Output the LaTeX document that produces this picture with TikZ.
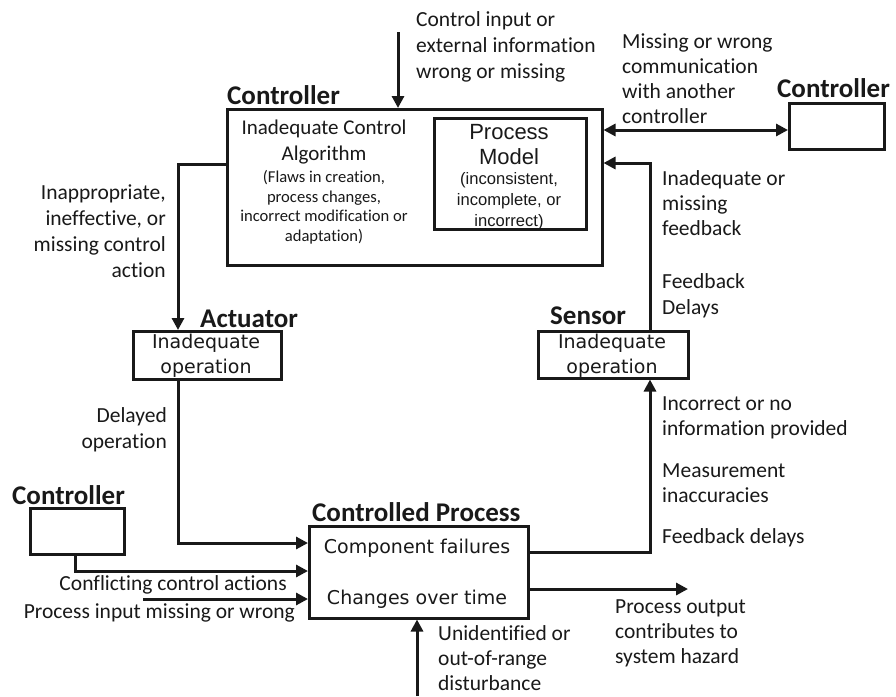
\documentclass[tikz,border=0pt]{standalone}
\usepackage{fontspec}
\setmainfont[Ligatures=NoCommon]{Carlito}
\newfontfamily\arialf{Liberation Sans}
\newfontfamily\verdf{DejaVu Sans}
\usetikzlibrary{arrows.meta}
\definecolor{ink}{RGB}{25,25,25}
\tikzset{
  box/.style={draw=ink, line width=2.5pt, inner sep=0pt, anchor=north west},
  arr/.style={draw=ink, line width=3pt, -{Triangle[length=12pt,width=12pt]}},
  dbl/.style={draw=ink, line width=3pt, {Triangle[length=12pt,width=12pt]}-{Triangle[length=12pt,width=12pt]}},
  lbl/.style={text=ink, font=\fontsize{21.5}{26}\selectfont, align=left, inner sep=0pt, anchor=north west},
  lbls/.style={text=ink, font=\fontsize{21.5}{25}\selectfont, align=left, inner sep=0pt, anchor=north west},
  lblr/.style={text=ink, font=\fontsize{21.5}{26}\selectfont, align=right, inner sep=0pt, anchor=north east},
  ttl/.style={text=ink, font=\bfseries\fontsize{27}{30}\selectfont, inner sep=0pt, anchor=base west},
  ctxt/.style={text=ink, font=\fontsize{21}{26}\selectfont, align=center, inner sep=0pt, anchor=north},
  csmall/.style={text=ink, font=\fontsize{16.6}{19.5}\selectfont, align=center, inner sep=0pt, anchor=north},
  pmbig/.style={text=ink, font=\arialf\fontsize{22}{25}\selectfont, align=center, inner sep=0pt, anchor=north},
  pmsmall/.style={text=ink, font=\arialf\fontsize{16.6}{21}\selectfont, align=center, inner sep=0pt, anchor=north},
  vtxt/.style={text=ink, font=\verdf\fontsize{19}{25}\selectfont, align=center, inner sep=0pt, anchor=north},
  vline/.style={text=ink, font=\verdf\fontsize{19}{25}\selectfont, inner sep=0pt, anchor=base}
}
\begin{document}
\begin{tikzpicture}[x=1pt,y=-1pt]
\useasboundingbox (0,0) rectangle (896,696);
\fill[white] (0,0) rectangle (896,696);

% boxes
\node[box, minimum width=375pt, minimum height=156pt] (ctrl) at (226,108) {};
\node[box, minimum width=152pt, minimum height=111pt] (pm) at (433,117) {};
\node[box, minimum width=95pt, minimum height=46pt] (ctrlR) at (788,102) {};
\node[box, minimum width=148pt, minimum height=48pt] (act) at (132,330) {};
\node[box, minimum width=150pt, minimum height=47pt] (sens) at (537,330) {};
\node[box, minimum width=219pt, minimum height=92pt] (proc) at (308,525) {};
\node[box, minimum width=94pt, minimum height=46pt] (ctrlL) at (29,507) {};

% titles
\node[ttl] (tCtrl) at (227,104) {Controller};
\node[ttl] (tCtrlR) at (777,97) {Controller};
\node[ttl] (tAct) at (200,327) {Actuator};
\node[ttl] (tSens) at (550,324) {Sensor};
\node[ttl] (tProc) at (312,521) {Controlled Process};
\node[ttl] (tCtrlL) at (12,504) {Controller};

% box contents
\node[ctxt] (algo) at (324,115.8) {\strut Inadequate Control\\Algorithm};
\node[csmall] (flaws) at (324,169) {\strut(Flaws in creation,\\process changes,\\incorrect modification or\\adaptation)};
\node[pmbig] (pmt) at (509,121.5) {\strut Process\\Model};
\node[pmsmall] (pms) at (509,169.3) {\strut(inconsistent,\\incomplete, or\\incorrect)};
\node[vtxt] (actt) at (206,330.5) {\strut Inadequate\\operation};
\node[vtxt] (senst) at (612,330.5) {\strut Inadequate\\operation};
\node[vline] (comp) at (417,553) {Component failures};
\node[vline] (chg) at (417,604) {Changes over time};

% labels
\node[lbl] (lTop) at (416,7.8) {\strut Control input or\\external information\\wrong or missing};
\node[lbls] (lComm) at (622,30.5) {\strut Missing or wrong\\communication\\with another\\controller};
\node[lbls] (lFb) at (662,167.8) {\strut Inadequate or\\missing\\feedback};
\node[lbl] (lFd) at (662,269.8) {\strut Feedback\\Delays};
\node[lbls] (lInc) at (662,392.5) {\strut Incorrect or no\\information provided};
\node[lbls] (lMeas) at (662,459.5) {\strut Measurement\\inaccuracies};
\node[lbl] (lFd2) at (662,524.8) {\strut Feedback delays};
\node[lbls] (lOut) at (615,595.8) {\strut Process output\\contributes to\\system hazard};
\node[lbls] (lDist) at (438,622.5) {\strut Unidentified or\\out-of-range\\disturbance};
\node[lblr] (lInap) at (166,180.8) {\strut Inappropriate,\\ineffective, or\\missing control\\action};
\node[lblr] (lDel) at (167,403.8) {\strut Delayed\\operation};
\node[lblr] (lConf) at (287,571.8) {\strut Conflicting control actions};
\node[lblr] (lIn) at (295,599.8) {\strut Process input missing or wrong};

% coordinates
\coordinate (topIn) at (398,32);
\coordinate (commY) at (0,130);
\coordinate (fbCorner) at (650,163);
\coordinate (actCorner) at (178,164);
\coordinate (actY) at (0,543);
\coordinate (confX) at (75,0);
\coordinate (confY) at (0,571);
\coordinate (inStart) at (143,599);
\coordinate (sensY) at (0,552);
\coordinate (outY) at (0,589);
\coordinate (outEnd) at (688,589);
\coordinate (distStart) at (417,696);

% connectors
\draw[arr] (topIn) -- (topIn |- ctrl.north);
\draw[dbl] (ctrl.east |- commY) -- (ctrlR.west |- commY);
\draw[arr] (sens.north -| fbCorner) -- (fbCorner) -- (ctrl.east |- fbCorner);
\draw[arr] (ctrl.west |- actCorner) -- (actCorner) -- (act.north -| actCorner);
\draw[arr] (act.south -| actCorner) |- (proc.west |- actY);
\draw[arr] (ctrlL.south -| confX) |- (proc.west |- confY);
\draw[arr] (inStart) -- (proc.west |- inStart);
\draw[arr] (proc.east |- sensY) -| (sens.south -| fbCorner);
\draw[arr] (proc.east |- outY) -- (outEnd);
\draw[arr] (distStart) -- (proc.south -| distStart);
\end{tikzpicture}
\end{document}
